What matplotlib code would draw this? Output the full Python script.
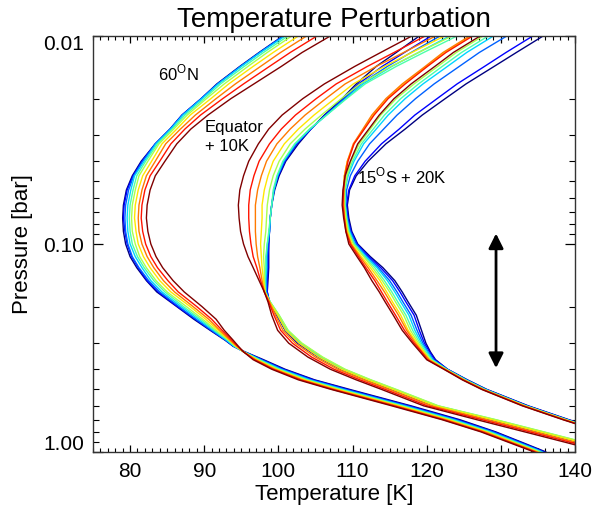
import matplotlib
matplotlib.use("Agg")
import matplotlib.pyplot as plt
import numpy as np
from matplotlib.ticker import FixedLocator, MultipleLocator, NullFormatter, FixedFormatter
from matplotlib.transforms import ScaledTranslation

plt.rcParams['font.family'] = ['Liberation Sans', 'DejaVu Sans']
plt.rcParams['mathtext.fontset'] = 'custom'
plt.rcParams['mathtext.rm'] = 'Liberation Sans'

# ---------------- data: temperature [K] per pressure level; 10 runs, navy -> dark red ----------------
p_60n = [0.01, 0.012, 0.014, 0.017, 0.02, 0.024, 0.028, 0.033, 0.04, 0.047, 0.055, 0.065,
         0.075, 0.087, 0.1, 0.115, 0.13, 0.15, 0.17, 0.2, 0.23, 0.26, 0.29, 0.31, 0.33,
         0.36, 0.4, 0.45, 0.5, 0.6, 0.7, 0.8, 0.9, 1.0]
t_60n = [
    [100.6, 100.7, 100.7, 100.9, 101.3, 101.8, 102.7, 103.8, 105.2, 107.0],
    [97.4, 97.5, 97.5, 97.6, 98.0, 98.5, 99.3, 100.3, 101.6, 103.2],
    [94.8, 94.9, 94.9, 95.0, 95.4, 95.9, 96.6, 97.6, 98.8, 100.4],
    [91.7, 91.8, 91.8, 91.9, 92.2, 92.7, 93.3, 94.2, 95.3, 96.7],
    [89.6, 89.6, 89.6, 89.7, 90.0, 90.3, 90.9, 91.6, 92.5, 93.6],
    [87.0, 87.0, 87.1, 87.1, 87.4, 87.7, 88.1, 88.8, 89.5, 90.5],
    [85.4, 85.4, 85.4, 85.5, 85.7, 85.9, 86.3, 86.8, 87.4, 88.2],
    [83.4, 83.4, 83.4, 83.5, 83.7, 83.9, 84.3, 84.8, 85.5, 86.3],
    [81.5, 81.6, 81.7, 81.9, 82.1, 82.4, 82.9, 83.4, 84.0, 84.7],
    [80.3, 80.4, 80.5, 80.6, 80.9, 81.2, 81.7, 82.2, 82.7, 83.4],
    [79.5, 79.6, 79.8, 80.1, 80.4, 80.7, 81.1, 81.6, 82.0, 82.7],
    [79.1, 79.2, 79.4, 79.7, 80.0, 80.3, 80.7, 81.2, 81.6, 82.3],
    [79.0, 79.1, 79.3, 79.6, 79.9, 80.2, 80.6, 81.1, 81.5, 82.2],
    [79.1, 79.3, 79.4, 79.7, 80.0, 80.3, 80.8, 81.2, 81.7, 82.4],
    [79.4, 79.6, 79.7, 80.0, 80.3, 80.7, 81.1, 81.6, 82.1, 82.8],
    [80.0, 80.2, 80.3, 80.7, 81.0, 81.3, 81.8, 82.3, 82.8, 83.5],
    [80.9, 81.1, 81.2, 81.6, 81.9, 82.2, 82.7, 83.2, 83.7, 84.4],
    [82.2, 82.3, 82.5, 82.8, 83.2, 83.5, 84.0, 84.5, 85.1, 85.8],
    [83.6, 83.8, 84.0, 84.3, 84.7, 85.0, 85.5, 86.0, 86.5, 87.3],
    [86.3, 86.4, 86.6, 86.9, 87.2, 87.6, 88.1, 88.5, 89.0, 89.7],
    [88.6, 88.8, 88.9, 89.2, 89.5, 89.8, 90.2, 90.6, 91.0, 91.6],
    [90.8, 90.9, 91.0, 91.2, 91.4, 91.6, 91.9, 92.1, 92.4, 92.7],
    [92.8, 92.9, 92.9, 93.0, 93.2, 93.3, 93.4, 93.5, 93.7, 93.9],
    [93.9, 93.9, 94.0, 94.0, 94.1, 94.2, 94.3, 94.4, 94.5, 94.6],
    [95.5, 95.4, 95.4, 95.4, 95.3, 95.3, 95.3, 95.3, 95.3, 95.3],
    [98.0, 97.8, 97.7, 97.5, 97.4, 97.2, 97.1, 96.9, 96.8, 96.6],
    [100.9, 100.7, 100.5, 100.3, 100.1, 99.9, 99.7, 99.5, 99.3, 99.1],
    [104.9, 104.7, 104.4, 104.2, 103.9, 103.7, 103.5, 103.2, 103.0, 102.7],
    [109.6, 109.3, 109.0, 108.7, 108.4, 108.2, 107.9, 107.6, 107.3, 107.1],
    [117.9, 117.6, 117.3, 117.0, 116.7, 116.5, 116.2, 115.9, 115.6, 115.3],
    [124.5, 124.2, 123.9, 123.7, 123.4, 123.1, 122.9, 122.6, 122.3, 122.1],
    [129.3, 129.1, 128.9, 128.6, 128.4, 128.2, 128.0, 127.8, 127.5, 127.3],
    [132.9, 132.7, 132.5, 132.3, 132.1, 131.9, 131.7, 131.5, 131.3, 131.1],
    [136.1, 135.9, 135.7, 135.6, 135.4, 135.2, 135.0, 134.9, 134.7, 134.5],
]

p_eq = [0.01, 0.012, 0.014, 0.017, 0.02, 0.024, 0.028, 0.033, 0.04, 0.047, 0.055, 0.065,
        0.075, 0.087, 0.1, 0.115, 0.13, 0.15, 0.17, 0.19, 0.22, 0.26, 0.3, 0.35, 0.4,
        0.45, 0.5, 0.6, 0.7, 0.8, 0.9, 1.0]
t_eq = [
    [119.0, 120.6, 121.8, 123.1, 124.1, 123.4, 122.4, 121.2, 119.8, 118.0],
    [115.9, 117.0, 117.9, 118.9, 119.6, 118.9, 118.0, 116.9, 115.6, 113.8],
    [113.2, 114.0, 114.7, 115.3, 115.9, 115.2, 114.3, 113.2, 112.0, 110.3],
    [110.5, 110.8, 111.1, 111.4, 111.7, 111.0, 110.1, 109.0, 107.8, 106.2],
    [108.6, 108.8, 108.9, 109.1, 109.2, 108.5, 107.6, 106.4, 105.1, 103.3],
    [106.2, 106.3, 106.4, 106.5, 106.5, 105.8, 104.8, 103.6, 102.3, 100.5],
    [104.4, 104.4, 104.3, 104.3, 104.2, 103.6, 102.7, 101.6, 100.4, 98.7],
    [102.7, 102.5, 102.4, 102.3, 102.2, 101.6, 100.8, 99.8, 98.8, 97.3],
    [101.0, 100.9, 100.8, 100.7, 100.6, 100.1, 99.3, 98.4, 97.4, 96.0],
    [100.1, 100.0, 99.9, 99.9, 99.8, 99.3, 98.6, 97.7, 96.7, 95.3],
    [99.5, 99.4, 99.4, 99.4, 99.3, 98.8, 98.1, 97.2, 96.2, 94.8],
    [99.1, 99.1, 99.1, 99.1, 99.1, 98.5, 97.8, 96.9, 96.0, 94.6],
    [98.9, 98.9, 98.9, 98.9, 98.9, 98.4, 97.8, 96.9, 96.0, 94.7],
    [98.8, 98.8, 98.8, 98.8, 98.7, 98.3, 97.7, 96.9, 96.1, 94.9],
    [98.7, 98.7, 98.6, 98.5, 98.5, 98.1, 97.6, 97.0, 96.3, 95.3],
    [98.7, 98.6, 98.5, 98.4, 98.3, 98.0, 97.7, 97.2, 96.6, 95.9],
    [98.7, 98.6, 98.5, 98.4, 98.3, 98.1, 97.8, 97.5, 97.1, 96.6],
    [98.6, 98.5, 98.4, 98.3, 98.2, 98.1, 98.0, 97.8, 97.6, 97.4],
    [98.5, 98.5, 98.4, 98.3, 98.2, 98.2, 98.2, 98.1, 98.1, 98.1],
    [98.8, 98.8, 98.8, 98.9, 98.9, 98.9, 98.8, 98.8, 98.7, 98.6],
    [99.8, 99.8, 99.9, 100.0, 100.1, 100.1, 99.9, 99.6, 99.4, 99.1],
    [100.9, 101.0, 101.0, 101.1, 101.3, 101.3, 101.0, 100.6, 100.3, 99.9],
    [102.6, 102.7, 102.9, 103.0, 103.1, 103.2, 102.8, 102.3, 101.9, 101.4],
    [105.4, 105.5, 105.6, 105.8, 105.9, 106.0, 105.5, 105.0, 104.5, 104.0],
    [108.4, 108.5, 108.6, 108.8, 108.9, 109.0, 108.5, 108.0, 107.5, 107.0],
    [111.9, 112.0, 112.1, 112.3, 112.4, 112.5, 112.0, 111.5, 111.0, 110.5],
    [115.2, 115.3, 115.5, 115.6, 115.8, 115.9, 115.4, 114.9, 114.4, 113.9],
    [121.0, 121.1, 121.2, 121.4, 121.5, 121.6, 121.1, 120.6, 120.1, 119.6],
    [128.6, 128.7, 128.9, 129.1, 129.3, 129.4, 128.8, 128.1, 127.5, 126.8],
    [135.0, 135.1, 135.3, 135.5, 135.7, 135.8, 135.2, 134.5, 133.9, 133.2],
    [140.6, 140.7, 140.9, 141.1, 141.3, 141.4, 140.8, 140.1, 139.5, 138.8],
    [145.4, 145.6, 145.7, 146.0, 146.2, 146.3, 145.6, 145.0, 144.3, 143.7],
]

p_15s = [0.01, 0.012, 0.014, 0.017, 0.02, 0.024, 0.028, 0.033, 0.04, 0.047, 0.055, 0.065,
         0.075, 0.087, 0.1, 0.115, 0.13, 0.15, 0.17, 0.19, 0.22, 0.26, 0.3, 0.33, 0.36,
         0.4, 0.45, 0.5, 0.6, 0.7, 0.8]
t_15s = [
    [135.7, 134.3, 130.8, 129.0, 128.3, 127.6, 126.0, 125.8, 126.2, 127.2],
    [132.1, 130.7, 127.1, 125.4, 124.7, 124.0, 122.4, 122.2, 122.6, 123.6],
    [129.1, 127.8, 124.4, 122.8, 122.1, 121.5, 120.0, 119.8, 120.1, 121.1],
    [125.3, 124.1, 121.0, 119.5, 118.9, 118.3, 116.9, 116.7, 117.1, 117.9],
    [122.5, 121.4, 118.5, 117.1, 116.5, 115.9, 114.7, 114.5, 114.8, 115.6],
    [119.4, 118.4, 116.0, 114.8, 114.3, 113.8, 112.8, 112.6, 112.9, 113.6],
    [117.1, 116.3, 114.2, 113.2, 112.8, 112.4, 111.5, 111.4, 111.6, 112.2],
    [114.5, 113.9, 112.3, 111.5, 111.2, 110.9, 110.2, 110.1, 110.2, 110.7],
    [112.1, 111.7, 110.7, 110.2, 110.0, 109.8, 109.3, 109.3, 109.4, 109.7],
    [110.5, 110.3, 109.7, 109.4, 109.3, 109.2, 108.9, 108.9, 109.0, 109.0],
    [109.6, 109.5, 109.2, 109.0, 109.0, 108.9, 108.8, 108.8, 108.8, 108.7],
    [109.3, 109.2, 109.1, 109.0, 109.0, 108.9, 108.8, 108.8, 108.7, 108.6],
    [109.5, 109.4, 109.3, 109.2, 109.2, 109.1, 109.0, 108.9, 108.9, 108.8],
    [109.9, 109.8, 109.7, 109.6, 109.5, 109.4, 109.3, 109.2, 109.1, 109.1],
    [110.7, 110.6, 110.5, 110.3, 110.2, 110.1, 109.9, 109.8, 109.7, 109.5],
    [112.4, 112.2, 112.0, 111.8, 111.6, 111.5, 111.2, 111.0, 110.8, 110.6],
    [114.1, 113.8, 113.5, 113.3, 113.0, 112.7, 112.4, 112.1, 111.8, 111.6],
    [115.7, 115.4, 115.0, 114.7, 114.3, 114.0, 113.7, 113.3, 113.0, 112.6],
    [116.7, 116.4, 116.0, 115.7, 115.3, 115.0, 114.6, 114.3, 113.9, 113.6],
    [117.5, 117.2, 116.8, 116.5, 116.1, 115.8, 115.4, 115.1, 114.7, 114.4],
    [118.6, 118.3, 117.9, 117.6, 117.2, 116.9, 116.5, 116.2, 115.8, 115.5],
    [119.3, 119.0, 118.7, 118.4, 118.1, 117.8, 117.5, 117.3, 117.0, 116.7],
    [119.9, 119.7, 119.5, 119.3, 119.1, 118.9, 118.7, 118.5, 118.3, 118.1],
    [120.5, 120.4, 120.2, 120.1, 119.9, 119.7, 119.6, 119.4, 119.3, 119.1],
    [121.2, 121.1, 120.9, 120.8, 120.7, 120.5, 120.4, 120.3, 120.1, 120.0],
    [122.8, 122.8, 122.7, 122.7, 122.6, 122.6, 122.5, 122.4, 122.4, 122.3],
    [125.5, 125.4, 125.3, 125.3, 125.2, 125.1, 125.0, 125.0, 124.9, 124.8],
    [128.1, 128.0, 127.9, 127.9, 127.8, 127.7, 127.6, 127.6, 127.5, 127.4],
    [133.7, 133.6, 133.5, 133.4, 133.3, 133.3, 133.2, 133.1, 133.0, 132.9],
    [139.2, 139.1, 139.0, 138.9, 138.8, 138.8, 138.7, 138.6, 138.5, 138.4],
    [144.3, 144.2, 144.1, 144.0, 143.9, 143.9, 143.8, 143.7, 143.6, 143.5],
]

x_ticks = [80, 90, 100, 110, 120, 130, 140]
y_ticks = [0.01, 0.1, 1.0]
y_tick_labels = ['0.01', '0.10', '1.00']
arrow_T = 129.35
arrow_p = [0.089, 0.395]

# ---------------- figure ----------------
fig = plt.figure(figsize=(5.95, 5.13), dpi=100)
W, H = 595.0, 513.0
ax = fig.add_axes([93 / W, 1 - 452 / H, 482 / W, 416 / H])

colors = plt.cm.jet(np.linspace(0, 1, 10))
for levels, table in [(p_60n, t_60n), (p_eq, t_eq), (p_15s, t_15s)]:
    for i in range(10):
        ax.plot([row[i] for row in table], levels, color=colors[i], lw=1.0,
                solid_joinstyle='round', solid_capstyle='round')

ax.set_yscale('log')
ax.set_xlim(75, 140)
ax.set_ylim(1.0, 0.01)

ax.xaxis.set_major_locator(FixedLocator(x_ticks))
ax.xaxis.set_minor_locator(MultipleLocator(1))
ax.yaxis.set_major_locator(FixedLocator(y_ticks))
ax.yaxis.set_major_formatter(FixedFormatter(y_tick_labels))
ax.yaxis.set_minor_locator(FixedLocator([0.02, 0.03, 0.04, 0.05, 0.06, 0.07, 0.08, 0.09,
                                         0.2, 0.3, 0.4, 0.5, 0.6, 0.7, 0.8, 0.9]))
ax.yaxis.set_minor_formatter(NullFormatter())

ax.tick_params(axis='x', which='major', direction='in', length=5, width=0.9,
               top=True, labelsize=15, pad=7)
ax.tick_params(axis='x', which='minor', direction='in', length=2.6, width=0.8, top=True)
ax.tick_params(axis='y', which='major', direction='in', length=7, width=0.9,
               right=True, labelsize=15, pad=6.5)
ax.tick_params(axis='y', which='minor', direction='in', length=4, width=0.8, right=True)
for s in ax.spines.values():
    s.set_linewidth(1.0)
    s.set_color('#333333')

# IDL-like placement of the end labels
yt = ax.yaxis.get_major_ticks()
yt[0].label1.set_transform(yt[0].label1.get_transform() +
                           ScaledTranslation(0, -6 / 100, fig.dpi_scale_trans))
yt[2].label1.set_transform(yt[2].label1.get_transform() +
                           ScaledTranslation(0, 9 / 100, fig.dpi_scale_trans))

ax.set_xlabel('Temperature [K]', fontsize=16)
ax.set_ylabel('Pressure [bar]', fontsize=16)
ax.xaxis.set_label_coords(0.5, -0.078)
ax.yaxis.set_label_coords(-0.124, 0.5)

fig.text(334 / W, 1 - 27 / H, 'Temperature Perturbation', ha='center', va='baseline',
         fontsize=20)

ax.text(83.8, 0.0163, r'60$^{\mathrm{O}}$N', fontsize=12, va='baseline', ha='left')
ax.text(90.1, 0.029, 'Equator', fontsize=12, va='baseline', ha='left')
ax.text(90.1, 0.0357, '+ 10K', fontsize=12, va='baseline', ha='left')
ax.text(110.6, 0.0509, r'15$^{\mathrm{O}}$S + 20K', fontsize=12, va='baseline', ha='left')

ax.annotate('', xy=(arrow_T, arrow_p[0]), xytext=(arrow_T, arrow_p[1]),
            arrowprops=dict(arrowstyle='<|-|>', lw=2.0, color='black',
                            mutation_scale=22, shrinkA=0, shrinkB=0))

fig.savefig('out.png', dpi=100)
